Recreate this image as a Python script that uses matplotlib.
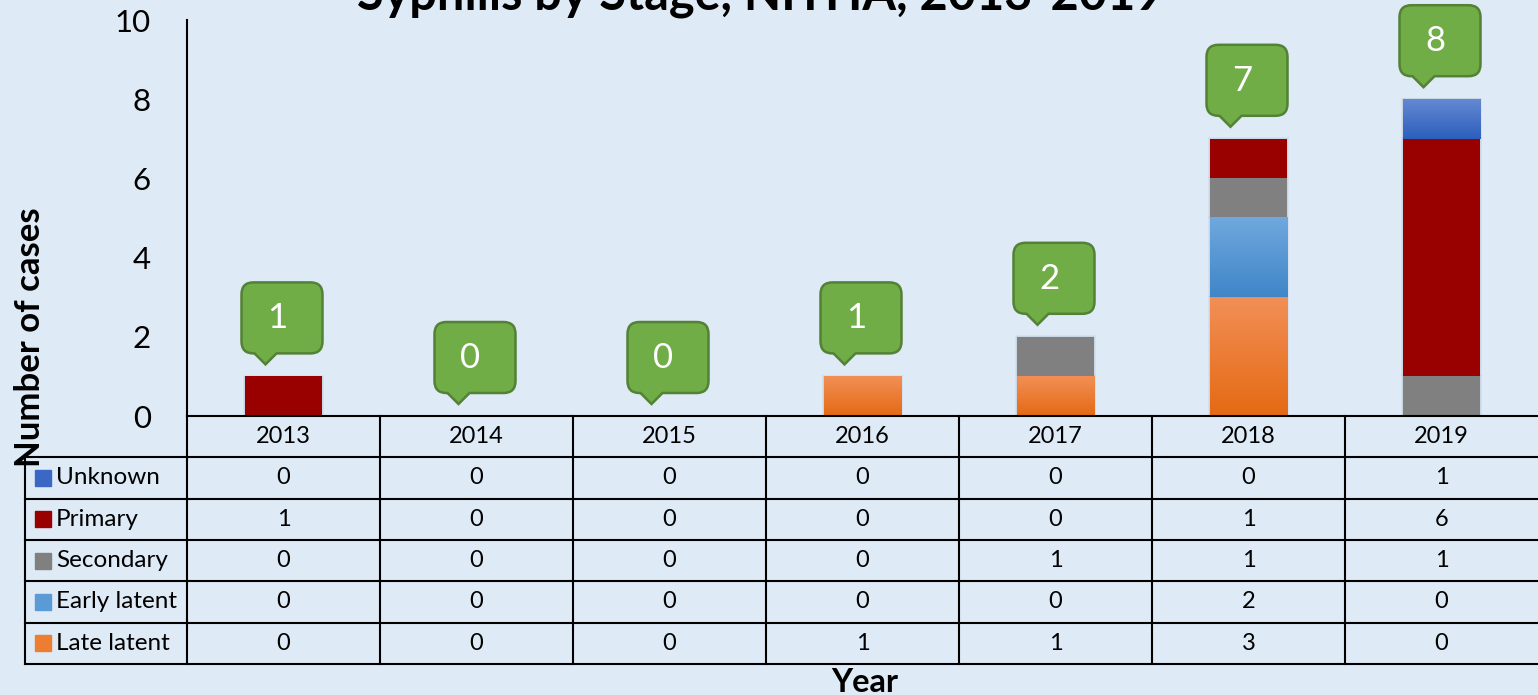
import matplotlib
matplotlib.use("Agg")
import matplotlib.pyplot as plt
import numpy as np
from matplotlib.path import Path
from matplotlib.patches import PathPatch
from matplotlib import transforms
from matplotlib.colors import to_rgb

plt.rcParams['font.family'] = ['Lato', 'DejaVu Sans']

years = ['2013', '2014', '2015', '2016', '2017', '2018', '2019']
# table order (top to bottom)
stages = ['Unknown', 'Primary', 'Secondary', 'Early latent', 'Late latent']
unknown = [0, 0, 0, 0, 0, 0, 1]
primary = [1, 0, 0, 0, 0, 1, 6]
secondary = [0, 0, 0, 0, 1, 1, 1]
early_latent = [0, 0, 0, 0, 0, 2, 0]
late_latent = [0, 0, 0, 1, 1, 3, 0]
values = [unknown, primary, secondary, early_latent, late_latent]

# (top colour, bottom colour) per stage, same colour = solid fill
colors = {
    'Unknown': ('#6489d2', '#2c5fbd'),
    'Primary': ('#990000', '#990000'),
    'Secondary': ('#808080', '#808080'),
    'Early latent': ('#70a8de', '#3f86c8'),
    'Late latent': ('#f28f56', '#e46a14'),
}
legend_col = {'Unknown': '#3a68c4', 'Primary': '#990000', 'Secondary': '#808080',
              'Early latent': '#5b9bd5', 'Late latent': '#ed7d31'}

bg = '#deeaf6'
W, H = 1538, 695
fig = plt.figure(figsize=(W / 100, H / 100), dpi=100)
fig.patch.set_facecolor(bg)

ax = fig.add_axes([187 / W, 1 - 416 / H, (W - 187) / W, 396 / H])
ax.set_facecolor('none')
x = np.arange(len(years))
ax.set_xlim(-0.5, len(years) - 0.5)
ax.set_ylim(0, 10)
ax.set_yticks([0, 2, 4, 6, 8, 10])
ax.tick_params(axis='y', length=0, pad=26, labelsize=22.5)
ax.set_xticks([])
for s in ['top', 'right', 'bottom']:
    ax.spines[s].set_visible(False)
ax.spines['left'].set_linewidth(1.5)

# stacked bars, bottom to top
bottom = np.zeros(len(years))
for name, vals in list(zip(stages, values))[::-1]:
    vals = np.array(vals, dtype=float)
    top_c, bot_c = colors[name]
    bars = ax.bar(x, vals, 0.4, bottom=bottom, color=bot_c, lw=0, zorder=3)
    for b in bars:
        h = b.get_height()
        if h <= 0:
            continue
        x0, y0, w = b.get_x(), b.get_y(), b.get_width()
        # soft shadow
        for k, a in [(0.035, 0.05), (0.02, 0.07)]:
            ax.add_patch(plt.Rectangle((x0 - k * 0.3, y0), w + k * 0.6, h + k, color='#34495e',
                                       alpha=a, lw=0, zorder=2))
        if top_c != bot_c:
            t = np.linspace(0, 1, 64)[:, None]
            c0, c1 = np.array(to_rgb(top_c)), np.array(to_rgb(bot_c))
            img = (1 - t)[..., None] * c0 + t[..., None] * c1
            ax.imshow(img, extent=[x0, x0 + w, y0, y0 + h], aspect='auto', zorder=4,
                      interpolation='bilinear')
    bottom += vals
ax.set_xlim(-0.5, len(years) - 0.5)
ax.set_ylim(0, 10)

# callout shapes with total labels (shape in pixels relative to bar top)
def callout_path(dx=-18, dy=12, l=-24, r=57, b=11, t=82, hw=11, rad=12):
    pts = [(0, 0), (hw, b), (r - rad, b), (r, b), (r, b + rad), (r, t - rad), (r, t),
           (r - rad, t), (l + rad, t), (l, t), (l, t - rad), (l, b + rad), (l, b),
           (l + rad, b), (-hw, b), (0, 0)]
    codes = [Path.MOVETO, Path.LINETO, Path.LINETO, Path.CURVE3, Path.CURVE3, Path.LINETO,
             Path.CURVE3, Path.CURVE3, Path.LINETO, Path.CURVE3, Path.CURVE3, Path.LINETO,
             Path.CURVE3, Path.CURVE3, Path.LINETO, Path.CLOSEPOLY]
    return Path([(px + dx, py + dy) for px, py in pts], codes)

totals = np.sum(values, axis=0)
shape = callout_path()
for xi, tot in zip(x, totals):
    tr = transforms.Affine2D().scale(fig.dpi / 100) + transforms.ScaledTranslation(xi, tot, ax.transData)
    ax.add_patch(PathPatch(shape, facecolor='#70ad47', edgecolor='#538135', lw=1.8,
                           transform=tr, zorder=6, clip_on=False))
    ttr = transforms.ScaledTranslation(-6 / 100, 58 / 100, fig.dpi_scale_trans)
    ax.text(xi, tot, str(tot), color='white', fontsize=25, ha='center', va='center',
            transform=ax.transData + ttr, zorder=7)

# data table under the chart
tab = fig.add_axes([25 / W, 1 - 664 / H, (W - 25) / W, 248 / H])
tab.set_facecolor('none')
left = -0.5 - 162 / 193
tab.set_xlim(left, len(years) - 0.5)
tab.set_ylim(len(stages) + 1, 0)
tab.axis('off')
lw = 1.5
tab.plot([-0.5, len(years) - 0.5], [0, 0], color='black', lw=lw, clip_on=False)
for r in range(1, len(stages) + 2):
    tab.plot([left, len(years) - 0.5], [r, r], color='black', lw=lw, clip_on=False)
tab.plot([-0.5, -0.5], [0, len(stages) + 1], color='black', lw=lw, clip_on=False)
for c in range(len(years) - 1):
    tab.plot([c + 0.5, c + 0.5], [0, len(stages) + 1], color='black', lw=lw, clip_on=False)
tab.plot([left, left], [1, len(stages) + 1], color='black', lw=lw, clip_on=False)

for c, yr in enumerate(years):
    tab.text(c, 0.5, yr, ha='center', va='center', fontsize=17)
for r, (name, vals) in enumerate(zip(stages, values)):
    yy = r + 1.5
    tab.plot(left + 18 / 193, yy, marker='s', ms=11, color=legend_col[name], lw=0)
    tab.text(left + 31 / 193, yy, name, ha='left', va='center', fontsize=17.5)
    for c, v in enumerate(vals):
        tab.text(c, yy, str(v), ha='center', va='center', fontsize=17)

fig.text(760 / W, 1 - 9 / H, 'Syphilis by Stage, NITHA, 2013-2019', ha='center',
         va='baseline', fontsize=35, fontweight='bold')
fig.text(30 / W, 1 - 337 / H, 'Number of cases', rotation=90, ha='center', va='center',
         fontsize=25, fontweight='bold')
fig.text(865 / W, 1 - 682 / H, 'Year', ha='center', va='center', fontsize=23.5,
         fontweight='bold')

fig.savefig('out.png', dpi=100, facecolor=bg)
